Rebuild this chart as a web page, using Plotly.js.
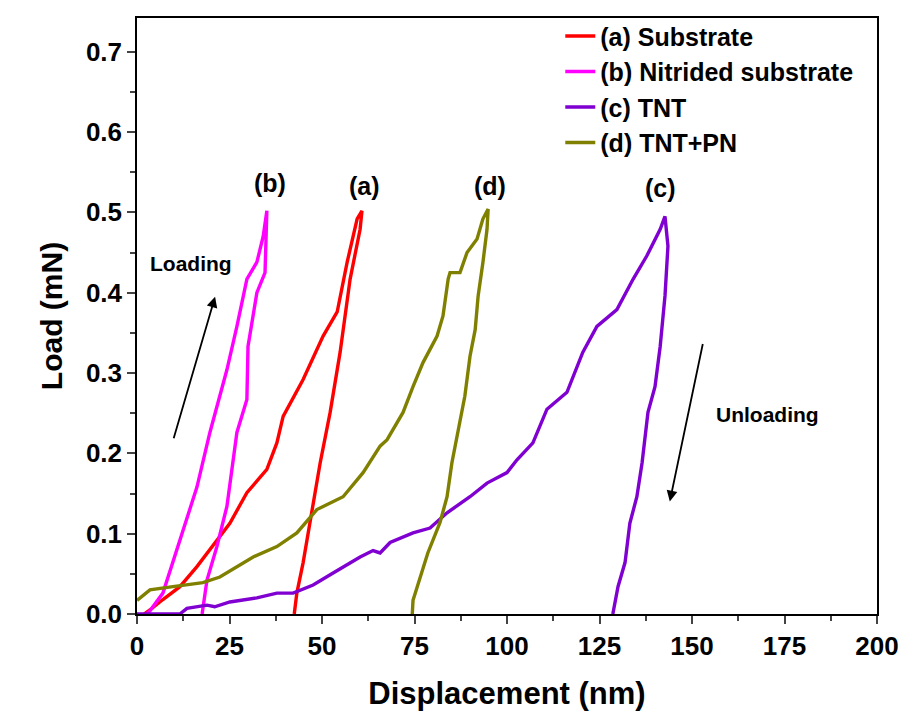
<!DOCTYPE html>
<html><head><meta charset="utf-8">
<script src="https://cdn.plot.ly/plotly-3.0.1.min.js"></script>
<style>body{margin:0;background:#fff}#chart{width:907px;height:721px}</style>
</head><body><div id="chart"></div>
<script>
// (a) Substrate
const aX = [2, 3.5, 7, 11.6, 16.2, 21.6, 25.1, 29.7, 35.1, 37.8, 39.5, 44.9, 50.3, 54.1, 56.8, 59.5, 60.8,
            60.3, 57.6, 54.9, 52.2, 49.5, 47.3, 44.9, 43.2, 42.5];
const aY = [0, 0.005, 0.018, 0.034, 0.059, 0.092, 0.113, 0.151, 0.18, 0.213, 0.246, 0.292, 0.346, 0.376, 0.438, 0.492, 0.502,
            0.479, 0.417, 0.326, 0.251, 0.188, 0.126, 0.064, 0.026, 0];
// (b) Nitrided substrate
const bX = [2.5, 3.5, 7, 12.4, 16.2, 19.7, 24.3, 27, 29.7, 32.4, 34.1, 35.1,
            34.6, 32.4, 30, 29.7, 27, 24.3, 21.6, 18.9, 17.6];
const bY = [0, 0.004, 0.026, 0.105, 0.158, 0.226, 0.304, 0.358, 0.417, 0.438, 0.47, 0.502,
            0.425, 0.4, 0.333, 0.267, 0.226, 0.134, 0.084, 0.042, 0];
// (c) TNT
const cX = [0, 5, 11.6, 13.5, 18.9, 21, 25.1, 32.4, 37.8, 42.2, 47.6, 53, 60.3, 63.8, 65.7, 68.4, 74.6, 79.2, 83.8, 90, 94.6, 100, 102.7,
            107, 110.8, 116.2, 120.5, 124.3, 129.7, 134.1, 137.8, 141.4, 142.7,
            143.5, 142.7, 141.4, 140, 138.1, 136.5, 135.1, 133.2, 131.9, 130, 128.6];
const cY = [0, 0, 0, 0.007, 0.011, 0.009, 0.015, 0.02, 0.026, 0.026, 0.036, 0.051, 0.071, 0.079, 0.076, 0.089, 0.101, 0.107, 0.126, 0.146, 0.163, 0.176, 0.192,
            0.213, 0.255, 0.276, 0.326, 0.358, 0.379, 0.417, 0.446, 0.479, 0.495,
            0.458, 0.396, 0.333, 0.283, 0.251, 0.188, 0.146, 0.113, 0.064, 0.034, 0];
// (d) TNT+PN
const dX = [0, 3.5, 9.7, 17.8, 22.4, 27, 31.4, 37.8, 43.2, 48.6, 55.7, 61.1, 65.7, 67.6, 71.9, 74.6, 77.3, 81.1, 82.7, 84.1, 84.6, 87.3, 89.2, 91.9, 93.5, 94.9,
            94.6, 93.5, 92.2, 91.4, 90, 88.6, 86.8, 85.1, 83.8, 81.9, 78.6, 76.5, 74.6, 74.4];
const dY = [0.017, 0.03, 0.034, 0.039, 0.046, 0.059, 0.071, 0.084, 0.101, 0.13, 0.146, 0.176, 0.209, 0.217, 0.251, 0.283, 0.313, 0.346, 0.371, 0.417, 0.425, 0.425, 0.45, 0.467, 0.492, 0.504,
            0.479, 0.438, 0.396, 0.354, 0.321, 0.271, 0.23, 0.188, 0.146, 0.114, 0.076, 0.046, 0.017, 0];

const names = ['(a) Substrate', '(b) Nitrided substrate', '(c) TNT', '(d) TNT+PN'];
const colors = ['#ff0000', '#ff00ff', '#7f00d0', '#808000'];
const xs = [aX, bX, cX, dX], ys = [aY, bY, cY, dY];

const traces = xs.map((x, i) => ({
  x: x, y: ys[i], name: names[i], type: 'scatter', mode: 'lines',
  line: {color: colors[i], width: 3.4}
}));

const F = 'Liberation Sans, Arial, sans-serif';
const layout = {
  width: 907, height: 721,
  margin: {l: 137, r: 30, t: 18, b: 107},
  paper_bgcolor: '#fff', plot_bgcolor: '#fff',
  showlegend: true,
  legend: {x: 0.572, y: 1.008, xanchor: 'left', yanchor: 'top', bgcolor: 'rgba(0,0,0,0)',
           font: {family: F, size: 25, color: '#000', weight: 'bold'}, tracegroupgap: 0},
  xaxis: {range: [0, 200], dtick: 25, tick0: 0, ticks: 'outside', ticklen: 8, tickwidth: 1.5,
          showline: true, linecolor: '#000', linewidth: 1.5, mirror: true, showgrid: false, zeroline: false,
          minor: {dtick: 12.5, ticks: 'outside', ticklen: 5, tickwidth: 1.5, showgrid: false},
          tickfont: {family: F, size: 26, color: '#000', weight: 'bold'},
          title: {text: 'Displacement (nm)', font: {family: F, size: 31, color: '#000', weight: 'bold'}, standoff: 22}},
  yaxis: {range: [0, 0.742], dtick: 0.1, tick0: 0, tickformat: '.1f', ticks: 'outside', ticklen: 8, tickwidth: 1.5,
          showline: true, linecolor: '#000', linewidth: 1.5, mirror: true, showgrid: false, zeroline: false,
          minor: {dtick: 0.05, ticks: 'outside', ticklen: 5, tickwidth: 1.5, showgrid: false},
          tickfont: {family: F, size: 26, color: '#000', weight: 'bold'},
          title: {text: 'Load (mN)', font: {family: F, size: 30, color: '#000', weight: 'bold'}, standoff: 14}},
  annotations: [
    {x: 36, y: 0.537, text: '(b)', showarrow: false, font: {family: F, size: 25, weight: 'bold', color: '#000'}},
    {x: 61.5, y: 0.533, text: '(a)', showarrow: false, font: {family: F, size: 25, weight: 'bold', color: '#000'}},
    {x: 95.5, y: 0.533, text: '(d)', showarrow: false, font: {family: F, size: 25, weight: 'bold', color: '#000'}},
    {x: 141.5, y: 0.53, text: '(c)', showarrow: false, font: {family: F, size: 25, weight: 'bold', color: '#000'}},
    {x: 14.5, y: 0.436, text: 'Loading', showarrow: false, font: {family: F, size: 21, weight: 'bold', color: '#000'}},
    {x: 170.5, y: 0.248, text: 'Unloading', showarrow: false, font: {family: F, size: 21, weight: 'bold', color: '#000'}},
    {x: 21.1, y: 0.395, ax: 9.8, ay: 0.217, axref: 'x', ayref: 'y', xref: 'x', yref: 'y', text: '', showarrow: true,
     arrowhead: 2, arrowsize: 1.2, arrowwidth: 1.8, arrowcolor: '#000'},
    {x: 144, y: 0.14, ax: 153, ay: 0.338, axref: 'x', ayref: 'y', xref: 'x', yref: 'y', text: '', showarrow: true,
     arrowhead: 2, arrowsize: 1.2, arrowwidth: 1.8, arrowcolor: '#000'}
  ]
};
Plotly.newPlot('chart', traces, layout, {displayModeBar: false});
</script></body></html>
